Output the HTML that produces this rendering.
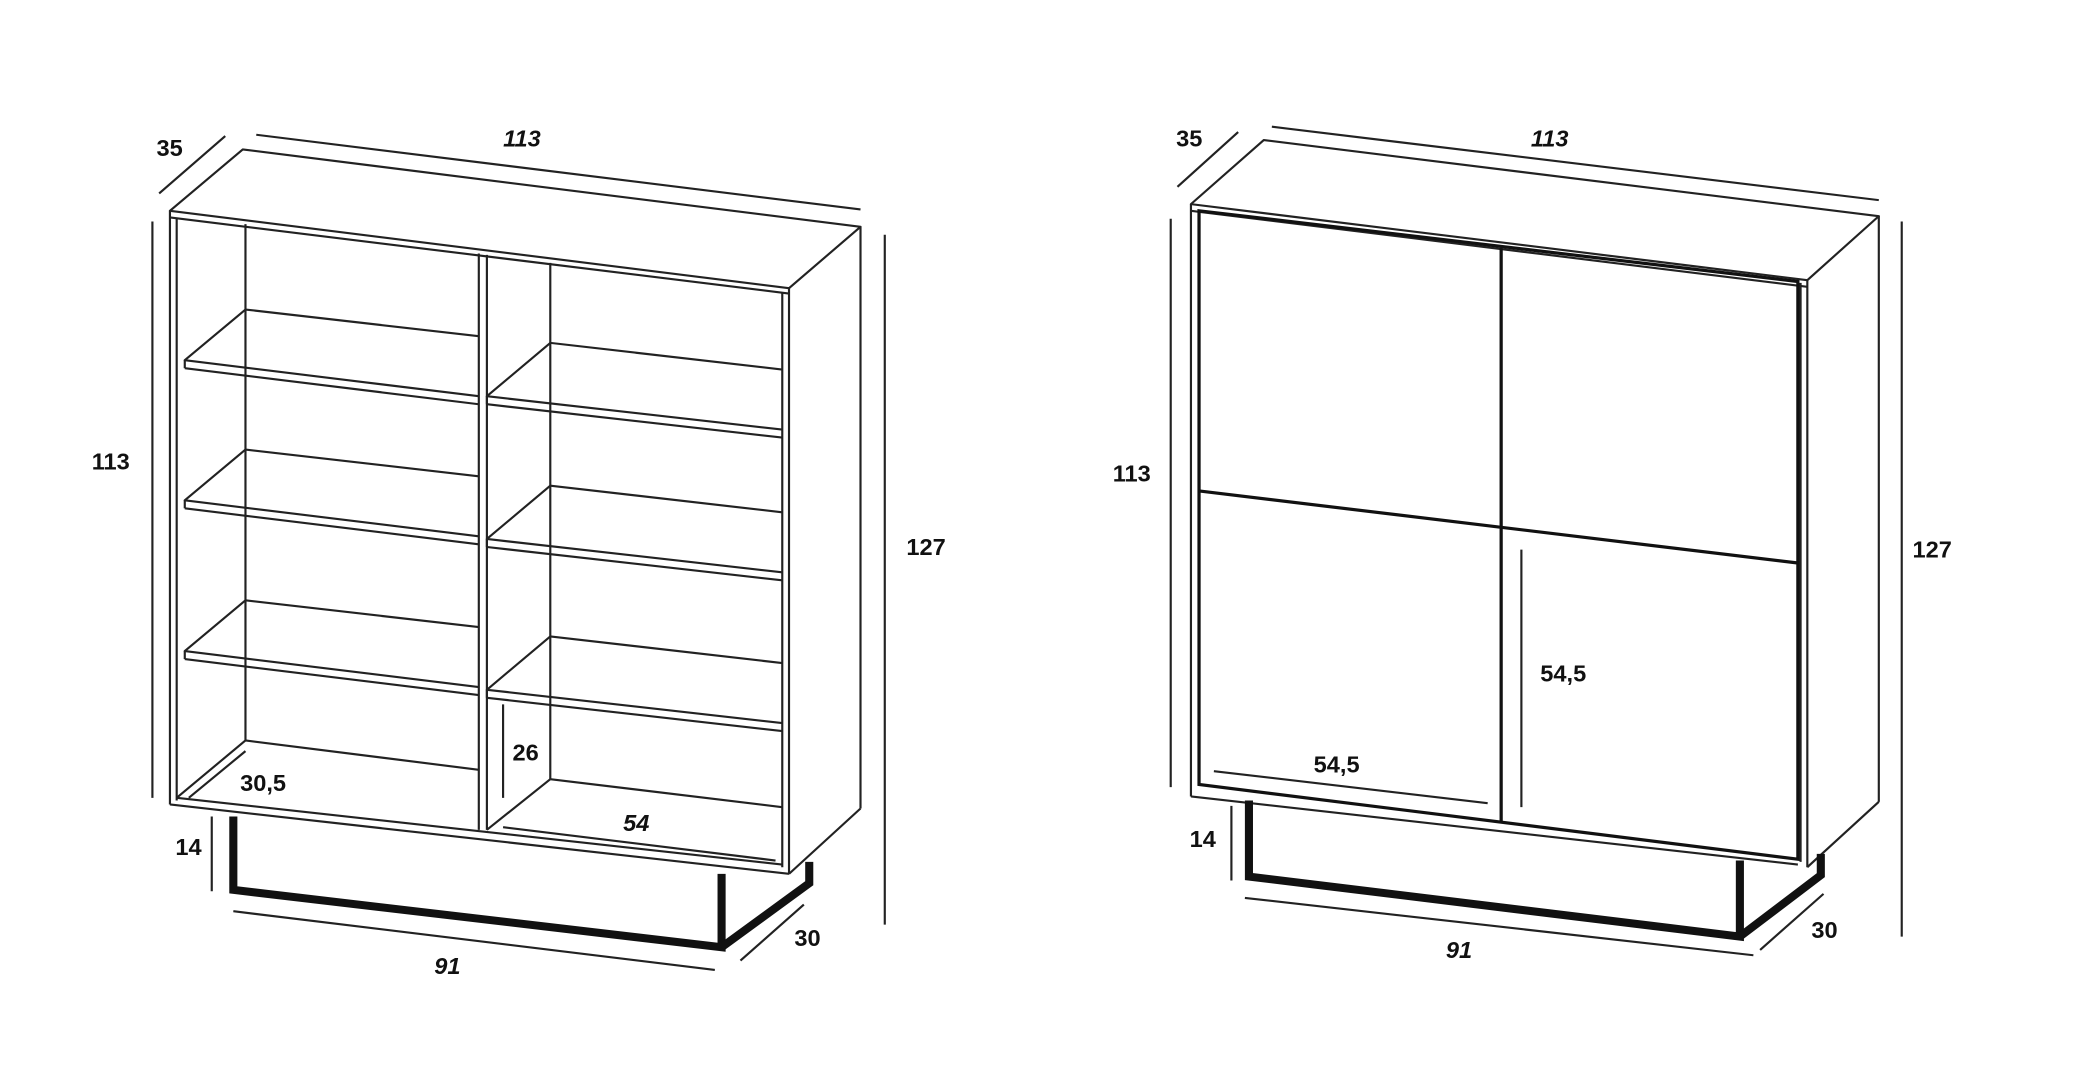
<!DOCTYPE html>
<html><head><meta charset="utf-8"><style>
html,body{margin:0;padding:0;background:#fff;width:2100px;height:1090px;overflow:hidden}
svg{display:block}
text{font-family:"Liberation Sans",sans-serif;font-weight:bold;font-size:17.5px;fill:#111}
</style></head><body>
<svg width="2100" height="1090" viewBox="0 0 1557 817" preserveAspectRatio="none">
<g fill="none" stroke="#222" stroke-width="1.6" stroke-linejoin="round">
<polygon points="126,158 180,112 638,170 585,216" fill="#fff"/>
<line x1="126" y1="163" x2="585" y2="220"/>
<line x1="126" y1="158" x2="126" y2="603"/>
<line x1="131" y1="163" x2="131" y2="600"/>
<line x1="585" y1="216" x2="585" y2="655"/>
<line x1="580" y1="219" x2="580" y2="650"/>
<line x1="638" y1="170" x2="638" y2="606"/>
<line x1="126" y1="603" x2="585" y2="655"/>
<line x1="585" y1="655" x2="638" y2="606"/>
<line x1="131" y1="598" x2="580" y2="648"/>
<line x1="182" y1="168" x2="182" y2="555"/>
<line x1="355" y1="190" x2="355" y2="622"/>
<line x1="361" y1="191" x2="361" y2="622"/>
<line x1="408" y1="197" x2="408" y2="584"/>
<line x1="131" y1="598" x2="182" y2="555"/>
<line x1="182" y1="555" x2="355" y2="577"/>
<line x1="361" y1="622" x2="408" y2="584"/>
<line x1="408" y1="584" x2="580" y2="605"/>
<g id="ls">
<polyline points="355,252 182,232 137,270 355,297"/>
<line x1="137" y1="270" x2="137" y2="276"/>
<line x1="137" y1="276" x2="355" y2="303"/>
</g>
<use href="#ls" transform="translate(0,105)"/>
<use href="#ls" transform="translate(0,218)"/>
<g id="rs">
<polyline points="580,277 408,257 361,297 580,322"/>
<line x1="361" y1="297" x2="361" y2="303"/>
<line x1="361" y1="303" x2="580" y2="328"/>
</g>
<use href="#rs" transform="translate(0,107)"/>
<use href="#rs" transform="translate(0,220)"/>
<line x1="190" y1="101" x2="638" y2="157"/>
<line x1="118" y1="145" x2="167" y2="102"/>
<line x1="113" y1="166" x2="113" y2="598"/>
<line x1="656" y1="176" x2="656" y2="693"/>
<line x1="157" y1="612" x2="157" y2="668"/>
<line x1="173" y1="683" x2="530" y2="727"/>
<line x1="549" y1="720" x2="596" y2="678"/>
<line x1="373" y1="528" x2="373" y2="598"/>
<line x1="373" y1="620" x2="575" y2="645"/>
<line x1="140" y1="598" x2="182" y2="563"/>
</g>
<g fill="none" stroke="#111" stroke-width="6" stroke-linejoin="miter">
<polyline points="173,612 173,667 535,710 535,655"/>
<polyline points="535,710 600,662 600,646"/>
</g>
<text x="116" y="117">35</text>
<text x="373" y="110" font-style="italic">113</text>
<text x="68" y="352">113</text>
<text x="672" y="416">127</text>
<text x="130" y="641">14</text>
<text x="322" y="730" font-style="italic">91</text>
<text x="589" y="709">30</text>
<text x="380" y="570">26</text>
<text x="178" y="593">30,5</text>
<text x="462" y="623" font-style="italic">54</text>

<g fill="none" stroke="#222" stroke-width="1.6" stroke-linejoin="round">
<polygon points="883,153 937,105 1393,162 1340,210" fill="#fff"/>
<line x1="883" y1="158" x2="1340" y2="215"/>
<line x1="883" y1="153" x2="883" y2="597"/>
<line x1="1340" y1="210" x2="1340" y2="650"/>
<line x1="1393" y1="162" x2="1393" y2="601"/>
<line x1="883" y1="597" x2="1333" y2="648"/>
<line x1="1340" y1="650" x2="1393" y2="601"/>
<line x1="1335" y1="212" x2="1335" y2="646"/>
<line x1="943" y1="95" x2="1393" y2="150"/>
<line x1="873" y1="140" x2="918" y2="99"/>
<line x1="868" y1="164" x2="868" y2="590"/>
<line x1="1410" y1="166" x2="1410" y2="702"/>
<line x1="913" y1="604" x2="913" y2="660"/>
<line x1="923" y1="673" x2="1300" y2="716"/>
<line x1="1305" y1="712" x2="1352" y2="670"/>
<line x1="900" y1="578" x2="1103" y2="602"/>
<line x1="1128" y1="412" x2="1128" y2="605"/>
</g>
<g fill="none" stroke="#111" stroke-width="2.4">
<polygon points="889,158 1333,211 1333,644 889,588"/>
<line x1="1113" y1="186" x2="1113" y2="616"/>
<line x1="889" y1="368" x2="1333" y2="422"/>
</g>
<g fill="none" stroke="#111" stroke-width="6">
<polyline points="926,600 926,657 1290,702 1290,645"/>
<polyline points="1290,702 1350,656 1350,640"/>
</g>
<text x="872" y="110">35</text>
<text x="1135" y="110" font-style="italic">113</text>
<text x="825" y="361">113</text>
<text x="1418" y="418">127</text>
<text x="882" y="635">14</text>
<text x="1072" y="718" font-style="italic">91</text>
<text x="1343" y="703">30</text>
<text x="1142" y="511">54,5</text>
<text x="974" y="579">54,5</text>
</svg>
</body></html>
